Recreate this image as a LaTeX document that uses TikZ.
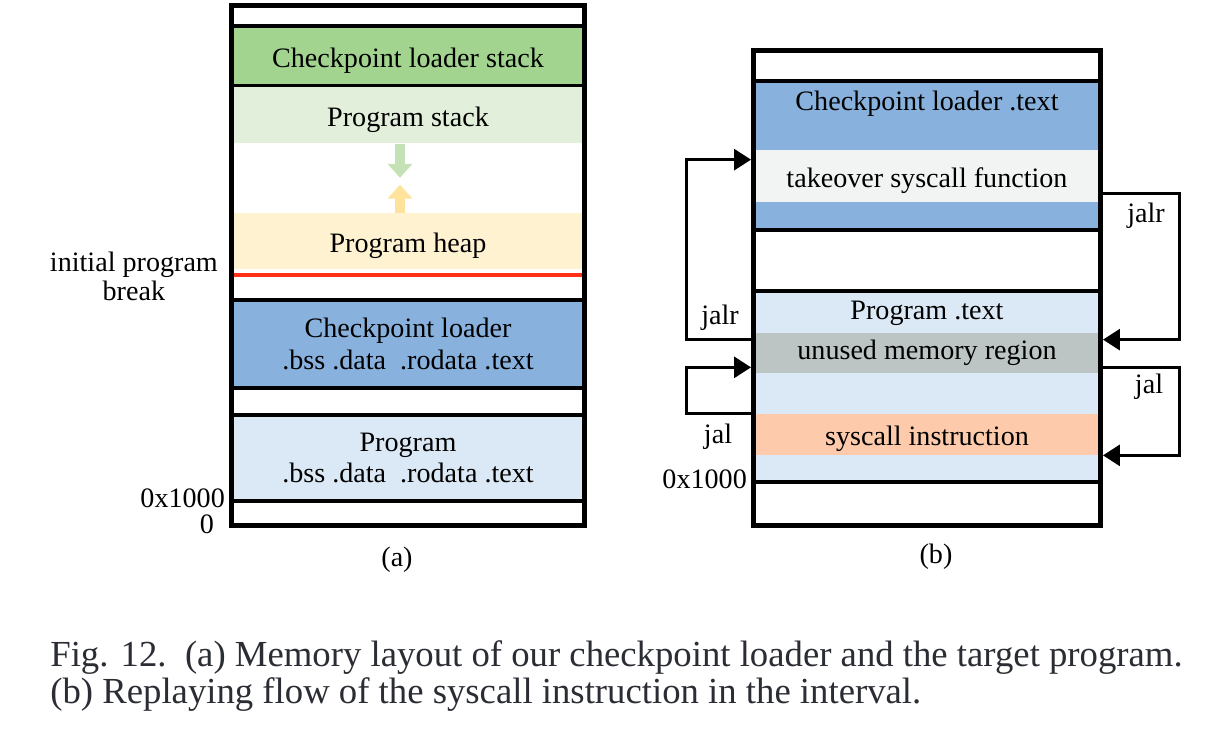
\documentclass[tikz,border=0pt]{standalone}
\usepackage{fontspec}
\setmainfont{Liberation Serif}
\usepackage{xcolor}
\usepackage{tikz}
\usetikzlibrary{calc,arrows.meta,positioning}

\definecolor{cLoaderStack}{HTML}{A3D48F}
\definecolor{cProgStack}{HTML}{E2F0DB}
\definecolor{cStackArrow}{HTML}{C4E2B6}
\definecolor{cHeap}{HTML}{FFF2D1}
\definecolor{cHeapArrow}{HTML}{FFE39C}
\definecolor{cBreak}{HTML}{FF3219}
\definecolor{cLoader}{HTML}{88B2DD}
\definecolor{cProgram}{HTML}{DBE8F5}
\definecolor{cTakeover}{HTML}{F2F4F4}
\definecolor{cUnused}{HTML}{BCC5C3}
\definecolor{cSyscall}{HTML}{FDCBAB}
\definecolor{cCaption}{HTML}{2A2D33}

\tikzstyle{tsText} = [
    text=black,
    font=\fontsize{16}{18}\selectfont
]
\tikzstyle{tsFrame} = [
    rectangle,
    draw=black,
    line width=0.1cm,
    inner sep=0pt]
\tikzstyle{tsRegion} = [
    rectangle,
    tsText,
    inner sep=0pt,
    text centered,
    align=center]
\tikzstyle{tsOneLine} = [
    text height=13pt,
    text depth=0pt]
\tikzstyle{tsBoxed} = [
    tsRegion,
    draw=black,
    line width=0.08cm]
\tikzstyle{tsJump} = [
    draw=black,
    line width=0.06cm,
    -{Triangle[length=0.34cm,width=0.42cm]}]
\tikzstyle{tsGrow} = [
    line width=0.2cm,
    -{Triangle[length=0.28cm,width=0.48cm]}]

\begin{document}
\begin{tikzpicture}[x=0.02cm, y=-0.02cm]
        \useasboundingbox (0,0) rectangle (1231,743);

        % (a) memory layout
        \node[tsBoxed, tsOneLine, fill=cLoaderStack, minimum width=7.06cm,
              minimum height=1.2cm] (lstack) at (408,56) {Checkpoint loader stack};
        \node[tsRegion, tsOneLine, fill=cProgStack, minimum width=6.96cm,
              minimum height=1.14cm] (pstack) at (408,115) {Program stack};
        \node[tsRegion, tsOneLine, fill=cHeap, minimum width=6.96cm,
              minimum height=1.12cm] (heap) at (408,241) {Program heap};
        \node[tsBoxed, fill=cLoader, minimum width=7.06cm,
              minimum height=1.76cm] (lloader) at (408,344)
              {Checkpoint loader\\.bss .data \ .rodata .text};
        \node[tsBoxed, fill=cProgram, minimum width=7.06cm,
              minimum height=1.72cm] (lprog) at (408,458)
              {Program\\.bss .data \ .rodata .text};

        \draw[tsGrow, cStackArrow] ([xshift=-0.16cm]pstack.south) -- ++(0,34);
        \draw[tsGrow, cHeapArrow] ([xshift=-0.16cm]heap.north) -- ++(0,-28);
        \draw[cBreak, line width=0.08cm]
            ($(heap.south west)+(0,5.5)$) -- ($(heap.south east)+(0,5.5)$);

        \node[tsFrame, minimum width=7.06cm, minimum height=10.39cm] (lmem) at (408,265.5) {};

        \node[tsText, align=center, anchor=east, font=\fontsize{16}{16.5}\selectfont] (brk)
            at ($(lmem.west |- heap.south)+(-5,7)$) {initial program\\break};
        \node[tsText, anchor=east] (lstart) at ($(lmem.west |- lprog.south)+(2,-5)$) {0x1000};
        \node[tsText, anchor=east] (lzero) at ($(lmem.south west)+(-9,-3)$) {0};
        \node[tsText] (capa) at (397,560) {(a)};

        % (b) replaying flow
        \node[tsBoxed, fill=cLoader, minimum width=6.94cm,
              minimum height=2.99cm] (rloader) at (927,155.25) {};
        \node[tsText] (rloadertxt) at (927,104) {Checkpoint loader .text};
        \node[tsRegion, tsOneLine, fill=cTakeover, minimum width=6.84cm,
              minimum height=1.04cm] (takeover) at (927,176) {takeover syscall function};
        \node[tsBoxed, fill=cProgram, minimum width=6.94cm,
              minimum height=3.82cm] (rprog) at (927,386.5) {};
        \node[tsText] (rprogtxt) at (927,313) {Program .text};
        \node[tsRegion, fill=cUnused, minimum width=6.84cm,
              minimum height=0.8cm] (unused) at (927,353) {unused memory region};
        \node[tsRegion, tsOneLine, fill=cSyscall, minimum width=6.84cm,
              minimum height=0.82cm] (syscall) at (927,434.5) {syscall instruction};

        \node[tsFrame, minimum width=6.94cm, minimum height=9.5cm] (rmem) at (927,288) {};

        \draw[tsJump] ($(rmem.west |- unused.north)+(0,7)$) -- ++(-65,0)
            |- ($(rmem.west |- takeover.north)+(0,10)$);
        \draw[tsJump] ($(rmem.east |- takeover.south)+(0,-9)$) -- ++(77,0)
            |- ($(rmem.east |- unused.north)+(0,7)$);
        \draw[tsJump] ($(rmem.east |- unused.south)+(0,-6)$) -- ++(77,0)
            |- (rmem.east |- syscall.south);
        \draw[tsJump] (rmem.west |- syscall.north) -- ++(-65,0)
            |- ($(rmem.west |- unused.south)+(0,-6)$);

        \node[tsText] (jalrl) at (720,318) {jalr};
        \node[tsText] (jalrr) at (1146,216) {jalr};
        \node[tsText] (jalr) at (1149,387) {jal};
        \node[tsText] (jall) at (718,437) {jal};
        \node[tsText, anchor=east] (rstart) at ($(rmem.west |- rprog.south)+(2,-5)$) {0x1000};
        \node[tsText] (capb) at (936,557) {(b)};

        % caption
        \node[anchor=west, align=left, inner sep=0pt, text=cCaption,
              font=\fontsize{20.9}{21.3}\selectfont] (caption) at (50,676)
            {Fig. 12.\ \ (a) Memory layout of our checkpoint loader and the target program.\\
             (b) Replaying flow of the syscall instruction in the interval.};
\end{tikzpicture}
\end{document}
